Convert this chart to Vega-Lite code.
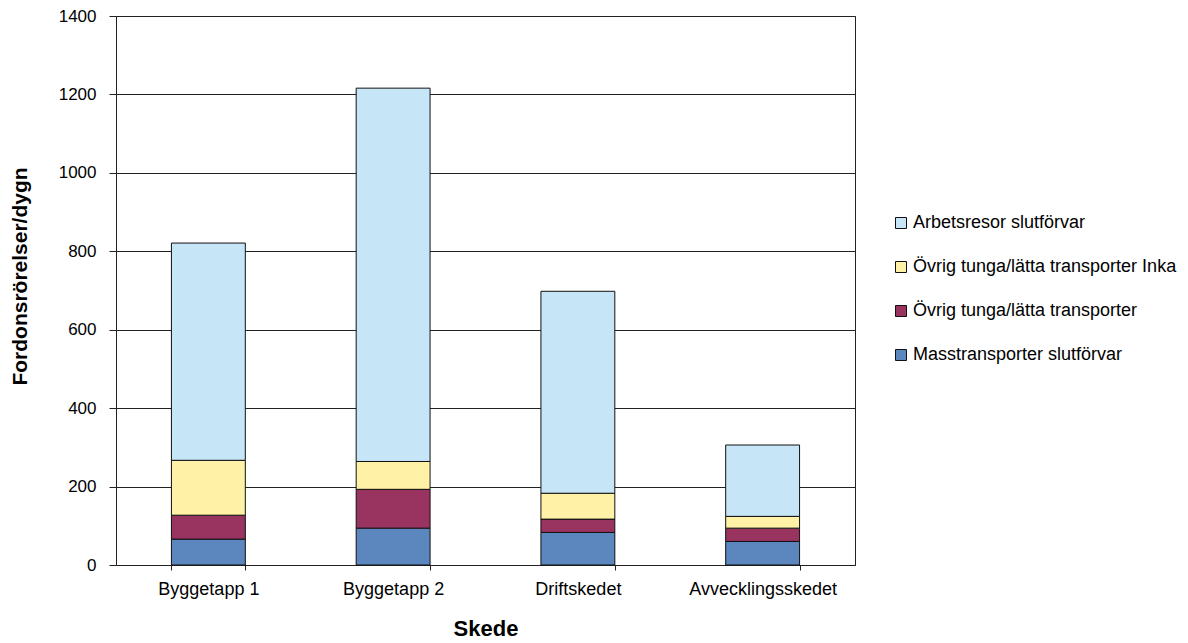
{
  "$schema": "https://vega.github.io/schema/vega-lite/v6.json",
  "autosize": {"type": "none"},
  "width": 739,
  "height": 549,
  "padding": {"left": 116, "top": 16, "right": 333, "bottom": 78},
  "background": "white",
  "config": {
    "font": "Liberation Sans",
    "view": {"stroke": "#222", "strokeWidth": 1},
    "axis": {
      "labelFont": "Liberation Sans",
      "titleFont": "Liberation Sans",
      "labelColor": "#000",
      "titleColor": "#000",
      "titleFontWeight": "bold",
      "domainColor": "#222",
      "tickColor": "#222",
      "gridColor": "#222",
      "gridOpacity": 1
    },
    "legend": {
      "labelFont": "Liberation Sans",
      "labelFontSize": 18,
      "labelColor": "#000",
      "labelLimit": 0
    }
  },
  "data": {
    "values": [
      {"Skede": "Byggetapp 1", "Kategori": "Masstransporter slutförvar", "Antal": 66},
      {"Skede": "Byggetapp 1", "Kategori": "Övrig tunga/lätta transporter", "Antal": 61},
      {"Skede": "Byggetapp 1", "Kategori": "Övrig tunga/lätta transporter Inka", "Antal": 140},
      {"Skede": "Byggetapp 1", "Kategori": "Arbetsresor slutförvar", "Antal": 554},
      {"Skede": "Byggetapp 2", "Kategori": "Masstransporter slutförvar", "Antal": 94},
      {"Skede": "Byggetapp 2", "Kategori": "Övrig tunga/lätta transporter", "Antal": 99},
      {"Skede": "Byggetapp 2", "Kategori": "Övrig tunga/lätta transporter Inka", "Antal": 71},
      {"Skede": "Byggetapp 2", "Kategori": "Arbetsresor slutförvar", "Antal": 952},
      {"Skede": "Driftskedet", "Kategori": "Masstransporter slutförvar", "Antal": 83},
      {"Skede": "Driftskedet", "Kategori": "Övrig tunga/lätta transporter", "Antal": 34},
      {"Skede": "Driftskedet", "Kategori": "Övrig tunga/lätta transporter Inka", "Antal": 66},
      {"Skede": "Driftskedet", "Kategori": "Arbetsresor slutförvar", "Antal": 515},
      {"Skede": "Avvecklingsskedet", "Kategori": "Masstransporter slutförvar", "Antal": 60},
      {"Skede": "Avvecklingsskedet", "Kategori": "Övrig tunga/lätta transporter", "Antal": 34},
      {"Skede": "Avvecklingsskedet", "Kategori": "Övrig tunga/lätta transporter Inka", "Antal": 30},
      {"Skede": "Avvecklingsskedet", "Kategori": "Arbetsresor slutförvar", "Antal": 182}
    ]
  },
  "transform": [
    {"calculate": "indexof(['Masstransporter slutförvar', 'Övrig tunga/lätta transporter', 'Övrig tunga/lätta transporter Inka', 'Arbetsresor slutförvar'], datum.Kategori)", "as": "Ordning"}
  ],
  "mark": {"type": "bar", "stroke": "#111", "strokeWidth": 1},
  "encoding": {
    "x": {
      "field": "Skede",
      "type": "nominal",
      "sort": ["Byggetapp 1", "Byggetapp 2", "Driftskedet", "Avvecklingsskedet"],
      "scale": {"paddingInner": 0.6, "paddingOuter": 0.3},
      "axis": {
        "title": "Skede",
        "labelAngle": 0,
        "labelFontSize": 18,
        "titleFontSize": 22,
        "tickBand": "extent",
        "tickSize": 5,
        "labelPadding": 10,
        "titlePadding": 20
      }
    },
    "y": {
      "field": "Antal",
      "type": "quantitative",
      "stack": "zero",
      "scale": {"domain": [0, 1400], "nice": false},
      "axis": {
        "title": "Fordonsrörelser/dygn",
        "format": "d",
        "labelFontSize": 17,
        "titleFontSize": 21,
        "values": [0, 200, 400, 600, 800, 1000, 1200, 1400],
        "tickSize": 7,
        "labelPadding": 13,
        "titleX": -96,
        "titleY": 260,
        "titleAlign": "center",
        "titleBaseline": "middle",
        "titleAngle": 270
      }
    },
    "order": {"field": "Ordning", "type": "quantitative", "sort": "ascending"},
    "color": {
      "field": "Kategori",
      "type": "nominal",
      "scale": {
        "domain": ["Arbetsresor slutförvar", "Övrig tunga/lätta transporter Inka", "Övrig tunga/lätta transporter", "Masstransporter slutförvar"],
        "range": ["#C6E5F6", "#FFF2A6", "#993360", "#5B87BE"]
      },
      "legend": {
        "title": null,
        "orient": "none",
        "legendX": 776,
        "legendY": 198,
        "symbolType": "square",
        "symbolSize": 121,
        "symbolStrokeColor": "#111",
        "symbolStrokeWidth": 1,
        "labelOffset": 3,
        "rowPadding": 26
      }
    }
  }
}
